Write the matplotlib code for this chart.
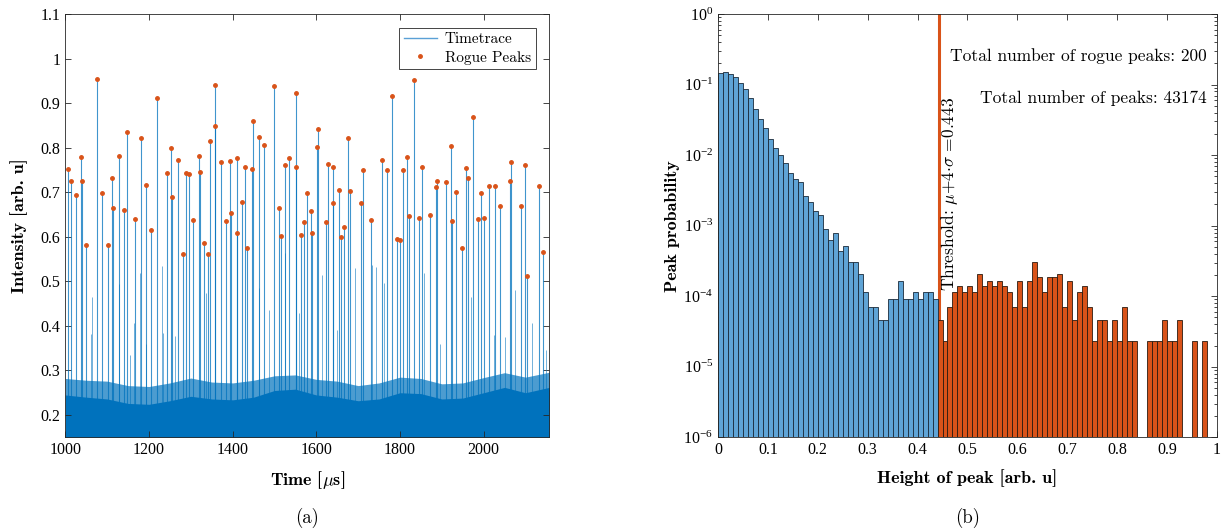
"""Rogue peaks: time trace (a) and peak-height histogram (b)."""
import matplotlib

matplotlib.use("Agg")
import matplotlib.pyplot as plt  # noqa: E402
import numpy as np  # noqa: E402
from matplotlib.ticker import FuncFormatter, LogLocator, NullFormatter  # noqa: E402

plt.rcParams["font.family"] = ["Liberation Serif", "DejaVu Serif"]
plt.rcParams["mathtext.fontset"] = "cm"
plt.rcParams["axes.unicode_minus"] = False

# --- panel (a): rogue peaks in the time trace (us, arb. u) ---
peak_times = [1005.6, 1013, 1025, 1037.5, 1040.6, 1050, 1076.5, 1088, 1102, 1111,
              1115, 1129, 1141, 1147, 1166.5, 1181.6, 1192, 1205, 1218, 1243,
              1252.6, 1255.8, 1268.6, 1281, 1287.7, 1294.8, 1305, 1320, 1322.6, 1332,
              1340, 1345.8, 1357.7, 1358.4, 1371, 1383, 1393.5, 1396.7, 1409.5, 1411,
              1422, 1429.4, 1435, 1446, 1447.8, 1463.6, 1474, 1498.7, 1511, 1516,
              1525.7, 1534.5, 1551, 1551.5, 1563, 1570, 1577, 1587, 1589.5, 1602,
              1604.6, 1622, 1628.5, 1640, 1640.5, 1654, 1658, 1666, 1675.5, 1679.6,
              1706, 1710.6, 1730.5, 1756, 1768.7, 1781, 1794, 1799, 1807.7, 1816.5,
              1820.5, 1834, 1846, 1851.6, 1870.7, 1885, 1887.5, 1909.7, 1922.4, 1923.3,
              1935, 1948.6, 1956.7, 1961.5, 1975, 1987, 1992.6, 1999.8, 2012.5, 2027.5,
              2038.7, 2063.4, 2064.3, 2089.6, 2098.5, 2103, 2132.6, 2140.7]
peak_heights = [0.753, 0.726, 0.694, 0.780, 0.725, 0.582, 0.954, 0.699, 0.582, 0.732,
                0.664, 0.781, 0.661, 0.836, 0.640, 0.822, 0.716, 0.615, 0.912, 0.743,
                0.799, 0.690, 0.773, 0.561, 0.744, 0.742, 0.638, 0.782, 0.746, 0.585,
                0.562, 0.816, 0.941, 0.849, 0.768, 0.636, 0.771, 0.653, 0.608, 0.776,
                0.678, 0.756, 0.576, 0.753, 0.860, 0.825, 0.806, 0.938, 0.664, 0.601,
                0.762, 0.776, 0.923, 0.756, 0.603, 0.634, 0.699, 0.659, 0.608, 0.801,
                0.843, 0.633, 0.764, 0.756, 0.675, 0.704, 0.599, 0.621, 0.822, 0.702,
                0.675, 0.751, 0.637, 0.773, 0.750, 0.917, 0.594, 0.592, 0.750, 0.779,
                0.647, 0.951, 0.642, 0.757, 0.648, 0.711, 0.726, 0.724, 0.804, 0.636,
                0.701, 0.574, 0.755, 0.732, 0.868, 0.640, 0.699, 0.642, 0.715, 0.714,
                0.669, 0.726, 0.768, 0.670, 0.761, 0.513, 0.713, 0.566]

# smaller (non-rogue) spikes of the trace
spike_times = [1062, 1064.5, 1127.6, 1155, 1164, 1178.5, 1192.8, 1230, 1234, 1262,
               1335.5, 1462, 1487.5, 1526, 1559, 1614, 1650, 1691.5, 1732, 1742.4,
               1762, 1858, 1895, 1969.5, 2024, 2050.6, 2076, 2116, 2150]
spike_heights = [0.381, 0.465, 0.495, 0.334, 0.406, 0.518, 0.360, 0.534, 0.383, 0.378,
                 0.473, 0.484, 0.435, 0.563, 0.428, 0.514, 0.390, 0.529, 0.537, 0.533,
                 0.497, 0.518, 0.360, 0.465, 0.379, 0.376, 0.480, 0.407, 0.345]

# noise floor of the trace: dense core and lighter upper fringe
band_times = [1000, 1050, 1100, 1150, 1200, 1250, 1300, 1350, 1400, 1450, 1500, 1550,
              1600, 1650, 1700, 1750, 1800, 1850, 1900, 1950, 2000, 2050, 2100, 2157]
band_core = [0.245, 0.240, 0.236, 0.226, 0.224, 0.232, 0.242, 0.236, 0.234, 0.240,
             0.255, 0.258, 0.245, 0.240, 0.232, 0.236, 0.250, 0.248, 0.236, 0.238,
             0.250, 0.262, 0.250, 0.262]
band_fringe = [0.282, 0.278, 0.276, 0.266, 0.264, 0.272, 0.283, 0.274, 0.272, 0.278,
               0.288, 0.290, 0.280, 0.276, 0.266, 0.272, 0.285, 0.282, 0.270, 0.272,
               0.284, 0.295, 0.285, 0.296]

# --- panel (b): histogram of peak heights (counts per 0.01 bin) ---
total_peaks = 43174
total_rogue = 200
threshold = 0.443
blue_counts = [6255, 6521, 6043, 5601, 4605, 3786, 2820, 1969, 1387, 1033,
               721, 550, 432, 332, 243, 199, 179, 113, 93, 69,
               61, 39, 27, 34, 19, 22, 13, 13, 9, 5,
               3, 3, 2, 2, 4, 4, 7, 4, 4, 5,
               4, 5, 5, 4]
rogue_counts = [2, 1, 3, 5, 6, 5, 6, 5, 9, 6,
                7, 6, 7, 6, 5, 3, 7, 3, 7, 13,
                8, 5, 8, 8, 9, 3, 7, 2, 5, 6,
                3, 1, 2, 2, 1, 2, 1, 3, 1, 1,
                0, 0, 1, 1, 1, 2, 1, 1, 2, 0,
                0, 1, 0, 1]

BLUE = "#0072BD"
ORANGE = "#D95319"
AX_COL = "#262626"


def style(ax):
    for s in ax.spines.values():
        s.set_linewidth(0.6)
        s.set_color(AX_COL)
    ax.tick_params(which="both", direction="in", top=True, right=True,
                   colors=AX_COL, labelcolor="black", labelsize=11.5, width=0.6)
    ax.tick_params(which="major", length=4.5)
    ax.tick_params(which="minor", length=2.5)


def main():
    fig = plt.figure(figsize=(12.21, 5.31), dpi=100)

    # (a) time trace
    ax1 = fig.add_axes([0.0535, 0.1765, 0.3964, 0.797])
    ax1.fill_between(band_times, 0.15, band_fringe, color=BLUE, alpha=0.7, lw=0)
    ax1.fill_between(band_times, 0.15, band_core, color=BLUE, lw=0)
    ax1.vlines(spike_times, 0.22, spike_heights, color=BLUE, lw=0.7, alpha=0.55)
    ax1.vlines(peak_times, 0.22, peak_heights, color=BLUE, lw=0.8, alpha=0.75)
    ax1.plot([], [], color="#5AA0D6", lw=1.0, label="Timetrace")
    ax1.plot(peak_times, peak_heights, ".", color=ORANGE, ms=5, label="Rogue Peaks")
    ax1.set_xlim(1000, 2157)
    ax1.set_ylim(0.15, 1.1)
    ax1.set_xticks([1000, 1200, 1400, 1600, 1800, 2000])
    ax1.set_yticks(np.round(np.arange(0.2, 1.11, 0.1), 1))
    ax1.yaxis.set_major_formatter(FuncFormatter(lambda v, p: f"{v:g}"))
    style(ax1)
    ax1.set_xlabel(r"Time [$\mu$s]", family="cmb10", fontsize=13)
    ax1.set_ylabel("Intensity [arb. u]", family="cmb10", fontsize=13)
    ax1.xaxis.set_label_coords(0.5, -0.075)
    ax1.yaxis.set_label_coords(-0.078, 0.5)
    leg = ax1.legend(loc="upper right", prop={"family": "cmr10", "size": 11},
                     fancybox=False, edgecolor=AX_COL, framealpha=1,
                     borderaxespad=0.9, handlelength=2.2, borderpad=0.3,
                     labelspacing=0.3, handletextpad=0.5)
    leg.get_frame().set_linewidth(0.6)

    # (b) histogram
    ax2 = fig.add_axes([0.588, 0.1765, 0.4087, 0.797])
    width = 0.01
    blue_left = np.arange(len(blue_counts)) * width
    rogue_left = (len(blue_counts) + np.arange(len(rogue_counts))) * width
    blue_p = np.array(blue_counts) / total_peaks
    rogue_p = np.array(rogue_counts) / total_peaks
    ax2.axvline(threshold, color=ORANGE, lw=2.2, zorder=1)
    ax2.bar(blue_left, blue_p, width=width, align="edge", color="#5FA4D6",
            edgecolor="#1a2a3a", lw=0.6, zorder=2)
    rl = rogue_left[rogue_p > 0]
    ax2.bar(rl, rogue_p[rogue_p > 0], width=width, align="edge", color=ORANGE,
            edgecolor="#2a1a10", lw=0.6, zorder=2)
    ax2.set_yscale("log")
    ax2.set_xlim(0, 1)
    ax2.set_ylim(1e-6, 1)
    ax2.set_xticks(np.round(np.arange(0, 1.01, 0.1), 1))
    ax2.xaxis.set_major_formatter(FuncFormatter(lambda v, p: f"{v:g}"))
    ax2.yaxis.set_major_locator(LogLocator(base=10, numticks=10))
    ax2.yaxis.set_minor_locator(LogLocator(base=10, subs=np.arange(2, 10), numticks=20))
    ax2.yaxis.set_minor_formatter(NullFormatter())
    style(ax2)
    ax2.set_xlabel("Height of peak [arb. u]", family="cmb10", fontsize=13)
    ax2.set_ylabel("Peak probability", family="cmb10", fontsize=13)
    ax2.xaxis.set_label_coords(0.5, -0.075)
    ax2.yaxis.set_label_coords(-0.076, 0.5)

    ax2.text(0.464, 10 ** -2.55, r"Threshold: $\mu$+4$\cdot\sigma$ =0.443",
             rotation=90, ha="center", va="center", family="cmr10", fontsize=12.5)
    ax2.text(0.979, 10 ** -0.594, f"Total number of rogue peaks: {total_rogue}",
             ha="right", va="center", family="cmr10", fontsize=12.5)
    ax2.text(0.979, 10 ** -1.185, f"Total number of peaks: {total_peaks}",
             ha="right", va="center", family="cmr10", fontsize=12.5)

    fig.text(307 / 1221, 1 - 518 / 531, "(a)", ha="center", va="center",
             family="cmr10", fontsize=13.5)
    fig.text(968 / 1221, 1 - 518 / 531, "(b)", ha="center", va="center",
             family="cmr10", fontsize=13.5)

    fig.savefig("out.png", dpi=100)


if __name__ == "__main__":
    main()
